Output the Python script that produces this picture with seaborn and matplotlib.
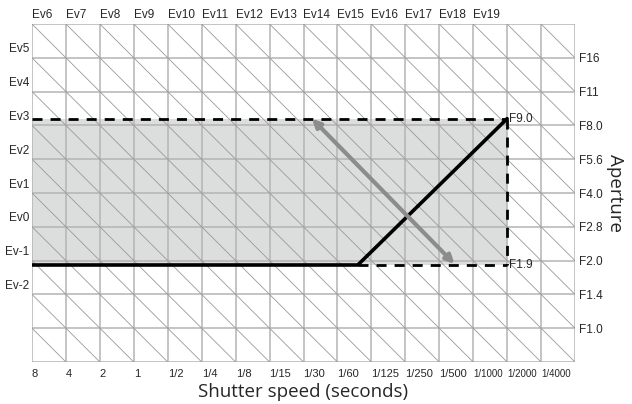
import numpy as np
import pandas as pd
import matplotlib
matplotlib.use("Agg")
import matplotlib.pyplot as plt
import seaborn as sns

# shutter speeds (Tv stops: 8s = -3 ... 1/4000 = 12)
shutter_labels = ["8", "4", "2", "1", "1/2", "1/4", "1/8", "1/15", "1/30", "1/60",
                  "1/125", "1/250", "1/500", "1/1000", "1/2000", "1/4000"]
shutter_tv = list(range(-3, 13))
# apertures (Av stops: F1.0 = 0 ... F16 = 8)
aperture_labels = ["F1.0", "F1.4", "F2.0", "F2.8", "F4.0", "F5.6", "F8.0", "F11", "F16"]
aperture_av = list(range(0, 9))
# Ev labels on the left edge and along the top
ev_left = [-2, -1, 0, 1, 2, 3, 4, 5]
ev_top = list(range(6, 20))

# exposure program line and its limits
prog_tv = [-3, 6.6, 11]
prog_av = [1.87, 1.87, 6.2]
lim_tv = [-3, 11]
lim_av = [1.87, 6.2]
lim_text = ["F1.9", "F9.0"]
# program shift arrow
shift_tv = [5.25, 9.45]
shift_av = [6.2, 1.9]

sns.set_style("white")
plt.rcParams['font.family'] = ['Liberation Sans', 'DejaVu Sans']

fig = plt.figure(figsize=(6.32, 4.04), dpi=100)
ax = fig.add_axes([32 / 632, 1 - 362 / 404, 543 / 632, 338 / 404])
xmin, xmax, ymin, ymax = -3, 13, -1, 9
ax.set_xlim(xmin, xmax)
ax.set_ylim(ymin, ymax)

# shaded range
ax.fill_between(lim_tv, lim_av[0], lim_av[1], color="#dcdddd", zorder=1, lw=0)

# grid
for x in range(xmin, xmax + 1):
    ax.axvline(x, color="#b4b4b4", lw=1.1, zorder=2)
for y in range(ymin, ymax + 1):
    ax.axhline(y, color="#b4b4b4", lw=1.1, zorder=2)
# constant-Ev diagonals
for ev in range(xmin + ymin, xmax + ymax + 1):
    xs = np.array([xmin, xmax], dtype=float)
    ax.plot(xs, ev - xs, color="#999999", lw=0.6, zorder=2)

# dashed limits
dash = (0, (3.6, 2.9))
ax.plot([lim_tv[0], lim_tv[1]], [lim_av[1], lim_av[1]], color="black", lw=2, ls=dash, zorder=4)
ax.plot([lim_tv[1], lim_tv[1]], [lim_av[1], lim_av[0]], color="black", lw=2, ls=dash, zorder=4)
ax.plot([prog_tv[1], lim_tv[1]], [lim_av[0], lim_av[0]], color="black", lw=2, ls=dash, zorder=4)

# program line
prog = pd.DataFrame({"tv": prog_tv, "av": prog_av})
sns.lineplot(data=prog, x="tv", y="av", sort=False, color="black", lw=2.6, ax=ax, zorder=5)

# shift arrow
ax.annotate("", xy=(shift_tv[0], shift_av[0]), xytext=(shift_tv[1], shift_av[1]),
            arrowprops=dict(arrowstyle="<|-|>", color="#8c8c8c", lw=3,
                            mutation_scale=12, shrinkA=0, shrinkB=0), zorder=6)

for t, av in zip(lim_text, lim_av):
    ax.text(lim_tv[1] + 0.05, av, t, ha="left", va="center", fontsize=8.5, zorder=7)

# bottom shutter labels
ax.set_xticks(shutter_tv)
ax.set_xticklabels(shutter_labels)
for lab, t in zip(ax.get_xticklabels(), shutter_labels):
    lab.set_horizontalalignment("left")
    lab.set_fontsize(7 if len(t) >= 6 else 8)
ax.tick_params(axis="x", length=0, pad=5)

# right aperture labels
ax.yaxis.tick_right()
ax.set_yticks(aperture_av)
ax.set_yticklabels(aperture_labels, fontsize=8.5)
ax.tick_params(axis="y", length=0, pad=3)

# Ev labels
for ev in ev_left:
    ax.annotate(f"Ev{ev}", xy=(xmin, ev + 3 + 0.25), xytext=(-2, 0), textcoords="offset points",
                ha="right", va="center", fontsize=8.5, annotation_clip=False)
for ev in ev_top:
    ax.annotate(f"Ev{ev}", xy=(ev - 9, ymax), xytext=(0, 6.5), textcoords="offset points",
                ha="left", va="center", fontsize=8.5, annotation_clip=False)

ax.set_xlabel("Shutter speed (seconds)", fontsize=13.5, family="Open Sans", labelpad=3)
ax.yaxis.set_label_position("right")
ax.set_ylabel("Aperture", fontsize=13.5, family="Open Sans", rotation=-90, labelpad=15)

for s in ax.spines.values():
    s.set_visible(False)

fig.savefig("out.png", dpi=100)
